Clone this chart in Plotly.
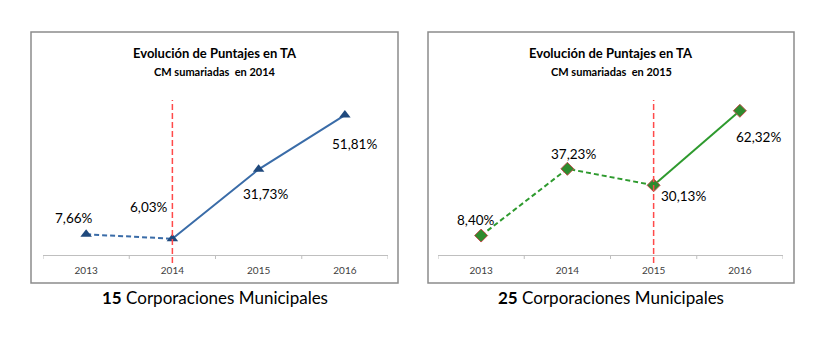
import plotly.graph_objects as go

years = ["2013", "2014", "2015", "2016"]
vals_2014 = [7.66, 6.03, 31.73, 51.81]
vals_2015 = [8.40, 37.23, 30.13, 62.32]
labels_2014 = ["7,66%", "6,03%", "31,73%", "51,81%"]
labels_2015 = ["8,40%", "37,23%", "30,13%", "62,32%"]
cut_year_2014 = "2014"
cut_year_2015 = "2015"
title = "Evolución de Puntajes en TA"
subtitle_2014 = "CM sumariadas  en 2014"
subtitle_2015 = "CM sumariadas  en 2015"
footer_2014 = ("15", " Corporaciones Municipales")
footer_2015 = ("25", " Corporaciones Municipales")

W, H = 833, 361
OFF = 8  # browser default body margin
FONT = "Lato"

def px(x):
    return (x - OFF) / W

def py(y):
    return (H - (y - OFF)) / H

fig = go.Figure()

BLUE = "#3A6CA8"
BLUE_M = "#1F497D"
GREEN = "#2E9A2E"
GREEN_M = "#2E8B2E"

idx = list(range(len(years)))

# Left panel (x, y)
fig.add_trace(go.Scatter(x=idx[:2], y=vals_2014[:2], mode="lines",
                         line=dict(color=BLUE, width=2, dash="5px,3px"),
                         xaxis="x", yaxis="y", hoverinfo="skip"))
fig.add_trace(go.Scatter(x=idx[1:], y=vals_2014[1:], mode="lines",
                         line=dict(color=BLUE, width=2),
                         xaxis="x", yaxis="y", hoverinfo="skip"))
fig.add_trace(go.Scatter(x=idx, y=vals_2014, mode="markers",
                         marker=dict(symbol="triangle-up", size=10, color=BLUE_M),
                         xaxis="x", yaxis="y"))

# Right panel (x2, y2)
fig.add_trace(go.Scatter(x=idx[:3], y=vals_2015[:3], mode="lines",
                         line=dict(color=GREEN, width=2, dash="5px,3px"),
                         xaxis="x2", yaxis="y2", hoverinfo="skip"))
fig.add_trace(go.Scatter(x=idx[2:], y=vals_2015[2:], mode="lines",
                         line=dict(color=GREEN, width=2),
                         xaxis="x2", yaxis="y2", hoverinfo="skip"))
fig.add_trace(go.Scatter(x=idx, y=vals_2015, mode="markers",
                         marker=dict(symbol="diamond", size=10, color=GREEN_M,
                                     line=dict(color="#C0504D", width=1)),
                         xaxis="x2", yaxis="y2"))

ydom = [py(255), py(93)]
xcommon = dict(type="linear", range=[-0.5, 3.5], showgrid=False,
               showline=True, linecolor="#BFBFBF", linewidth=1,
               tickmode="array", tickvals=idx, ticktext=years, ticks="",
               ticklabelstandoff=6,
               tickfont=dict(family=FONT, size=10, color="#404040"),
               fixedrange=True, zeroline=False)
ycommon = dict(visible=False, showgrid=False, zeroline=False, fixedrange=True)

fig.update_layout(
    width=W, height=H, margin=dict(l=0, r=0, t=0, b=0),
    paper_bgcolor="white", plot_bgcolor="rgba(0,0,0,0)",
    showlegend=False,
    xaxis=dict(domain=[px(43), px(388)], anchor="y", **xcommon),
    yaxis=dict(domain=ydom, range=[0, 60], anchor="x", **ycommon),
    xaxis2=dict(domain=[px(438), px(783)], anchor="y2", **xcommon),
    yaxis2=dict(domain=ydom, range=[0, 70], anchor="x2", **ycommon),
)

shapes = []
# panel borders
for x0, x1 in [(31, 398), (428, 794)]:
    shapes.append(dict(type="rect", xref="paper", yref="paper",
                       x0=px(x0), x1=px(x1), y0=py(283), y1=py(32),
                       line=dict(color="#8C8C8C", width=1.5), layer="below"))
# category boundary ticks
for xr in ["x", "x2"]:
    for b in [-0.5, 0.5, 1.5, 2.5, 3.5]:
        shapes.append(dict(type="line", xref=xr, yref="paper", x0=b, x1=b,
                           y0=py(259), y1=py(255), line=dict(color="#BFBFBF", width=1)))
# red dashed vertical markers
for xr, cy in [("x", cut_year_2014), ("x2", cut_year_2015)]:
    xi = years.index(cy)
    shapes.append(dict(type="line", xref=xr, yref="paper", x0=xi, x1=xi,
                       y0=py(263), y1=py(100),
                       line=dict(color="#FF4A4A", width=1.5, dash="6px,3px")))
fig.update_layout(shapes=shapes)

ann = []
# titles
for cx, sub in [((31 + 398) / 2, subtitle_2014), ((428 + 794) / 2, subtitle_2015)]:
    ann.append(dict(xref="paper", yref="paper", x=px(cx), y=py(53), text="<b>" + title + "</b>",
                    showarrow=False, xanchor="center", yanchor="middle",
                    font=dict(family=FONT, size=13, color="#000000")))
    ann.append(dict(xref="paper", yref="paper", x=px(cx), y=py(71), text="<b>" + sub + "</b>",
                    showarrow=False, xanchor="center", yanchor="middle",
                    font=dict(family=FONT, size=11, color="#000000")))

# data labels
shifts_2014 = [(-12, 16), (-23, 32), (7, -25), (10, -29)]
shifts_2015 = [(-5, 16), (6, 15), (30, -11), (19, -26)]
for xr, yr, vals, labs, shifts in [("x", "y", vals_2014, labels_2014, shifts_2014),
                                    ("x2", "y2", vals_2015, labels_2015, shifts_2015)]:
    for i, v, lab, (dx, dy) in zip(idx, vals, labs, shifts):
        ann.append(dict(xref=xr, yref=yr, x=i, y=v, text=lab, showarrow=False,
                        xshift=dx, yshift=dy, xanchor="center", yanchor="middle",
                        font=dict(family=FONT, size=13.5, color="#000000")))

# footers
for cx, (num, rest) in [((31 + 398) / 2, footer_2014), ((428 + 794) / 2, footer_2015)]:
    ann.append(dict(xref="paper", yref="paper", x=px(cx), y=py(297),
                    text="<b>" + num + "</b>" + rest, showarrow=False,
                    xanchor="center", yanchor="middle",
                    font=dict(family=FONT, size=17, color="#000000")))

fig.update_layout(annotations=ann)

fig.write_html("out.html")
